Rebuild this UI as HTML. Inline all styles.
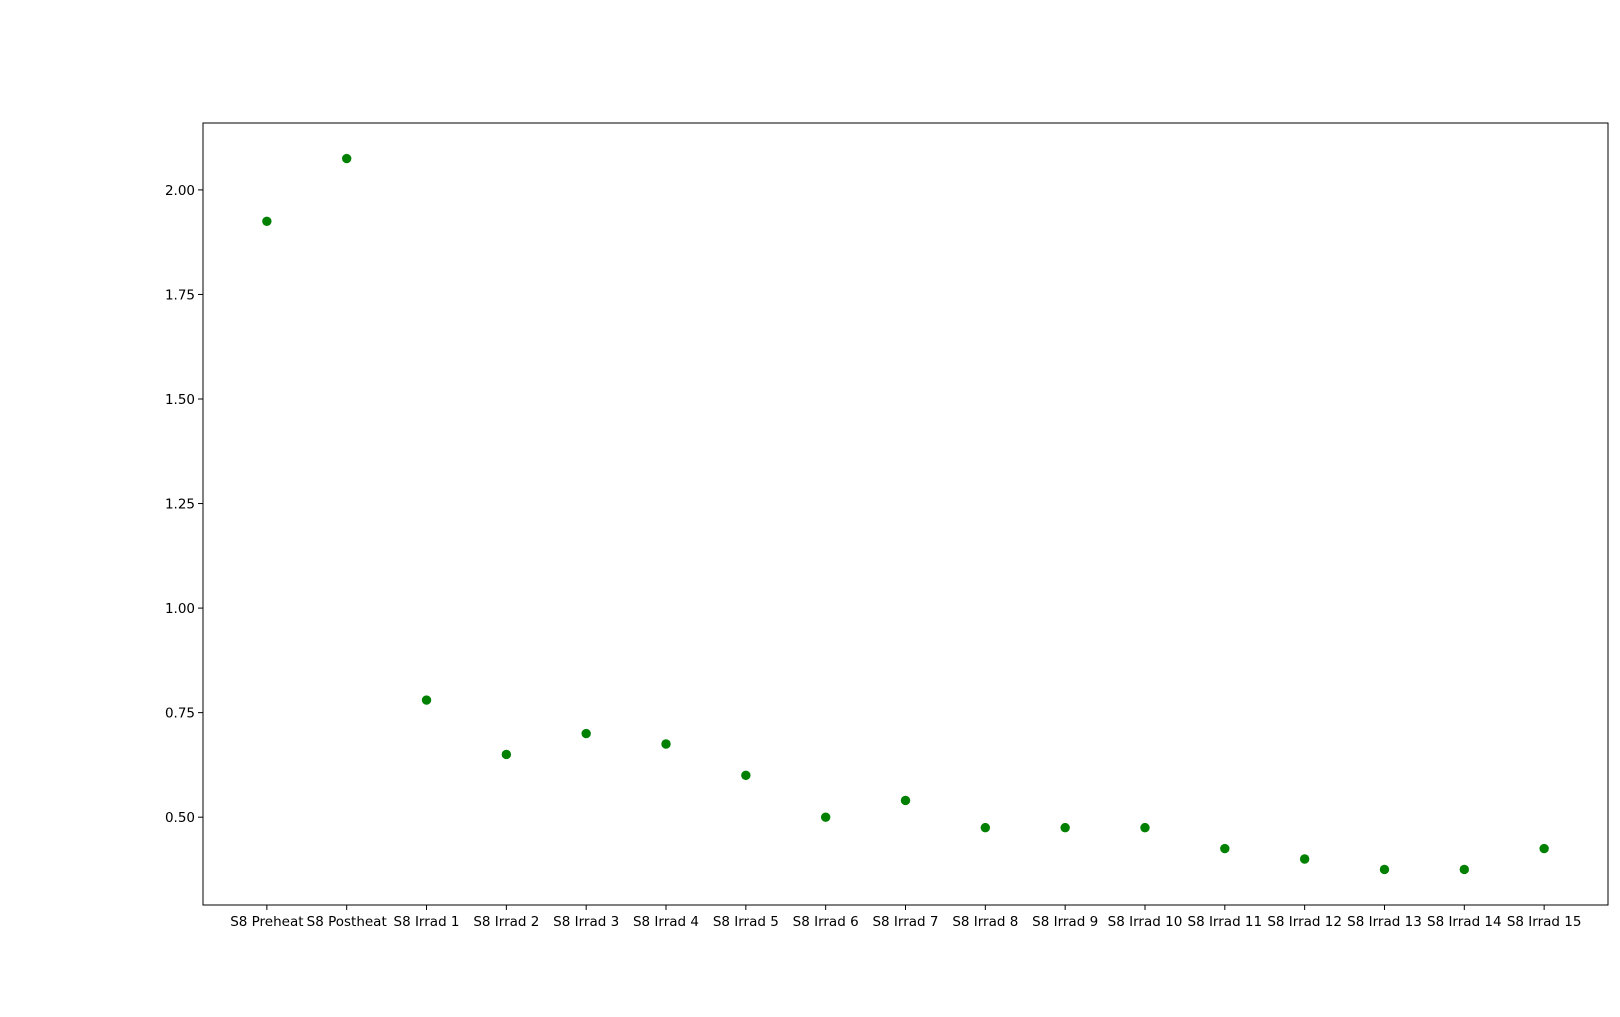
<!DOCTYPE html>
<html>
<head>
<meta charset="utf-8">
<style>
  html,body{margin:0;padding:0;background:#fff;}
  svg{display:block;}
  text{font-family:"DejaVu Sans","Liberation Sans",sans-serif;font-size:13.5px;fill:#000;}
</style>
</head>
<body>
<svg id="chart" width="1620" height="1017" viewBox="0 0 1620 1017">
  <rect x="0" y="0" width="1620" height="1017" fill="#fff"/>
  <g id="plot"></g>
</svg>
<script>
const categories = ["S8 Preheat","S8 Postheat","S8 Irrad 1","S8 Irrad 2","S8 Irrad 3","S8 Irrad 4","S8 Irrad 5","S8 Irrad 6","S8 Irrad 7","S8 Irrad 8","S8 Irrad 9","S8 Irrad 10","S8 Irrad 11","S8 Irrad 12","S8 Irrad 13","S8 Irrad 14","S8 Irrad 15"];
const values = [1.925,2.075,0.78,0.65,0.70,0.675,0.60,0.50,0.54,0.475,0.475,0.475,0.425,0.40,0.375,0.375,0.425];
const yTicks = [0.50,0.75,1.00,1.25,1.50,1.75,2.00];
const yTickLabels = ["0.50","0.75","1.00","1.25","1.50","1.75","2.00"];

const L=203,R=1608,T=123,B=905;
const NS="http://www.w3.org/2000/svg";
const n=categories.length;
const xMin=-0.8, xMax=(n-1)+0.8;
const vmin=Math.min(...values), vmax=Math.max(...values);
const pad=(vmax-vmin)*0.05;
const yMin=vmin-pad, yMax=vmax+pad;
function xs(i){return L+(i-xMin)/(xMax-xMin)*(R-L);}
function ys(v){return B-(v-yMin)/(yMax-yMin)*(B-T);}
const g=document.getElementById('plot');
function mk(tag,attrs){const e=document.createElementNS(NS,tag);for(const k in attrs)e.setAttribute(k,attrs[k]);g.appendChild(e);return e;}

yTicks.forEach((v,i)=>{
  const y=ys(v);
  const t=mk('line',{x1:L-5,x2:L,y1:y,y2:y,stroke:'#000','stroke-width':1});
  
  
  const lb=mk('text',{x:L-8,y:y+5,'text-anchor':'end'});
  lb.textContent=yTickLabels[i];
  
  
});
categories.forEach((c,i)=>{
  const x=xs(i);
  const t=mk('line',{x1:x,x2:x,y1:B,y2:B+5,stroke:'#000','stroke-width':1});
  
  
  const lb=mk('text',{x:x,y:B+21,'text-anchor':'middle'});
  lb.textContent=c;
  
  
});
values.forEach((v,i)=>{
  const p=mk('circle',{cx:xs(i),cy:ys(v),r:4.7,fill:'#008000'});
  
  
});
const fr=mk('rect',{x:L,y:T,width:R-L,height:B-T,fill:'none',stroke:'#000','stroke-width':1});


</script>
</body>
</html>
